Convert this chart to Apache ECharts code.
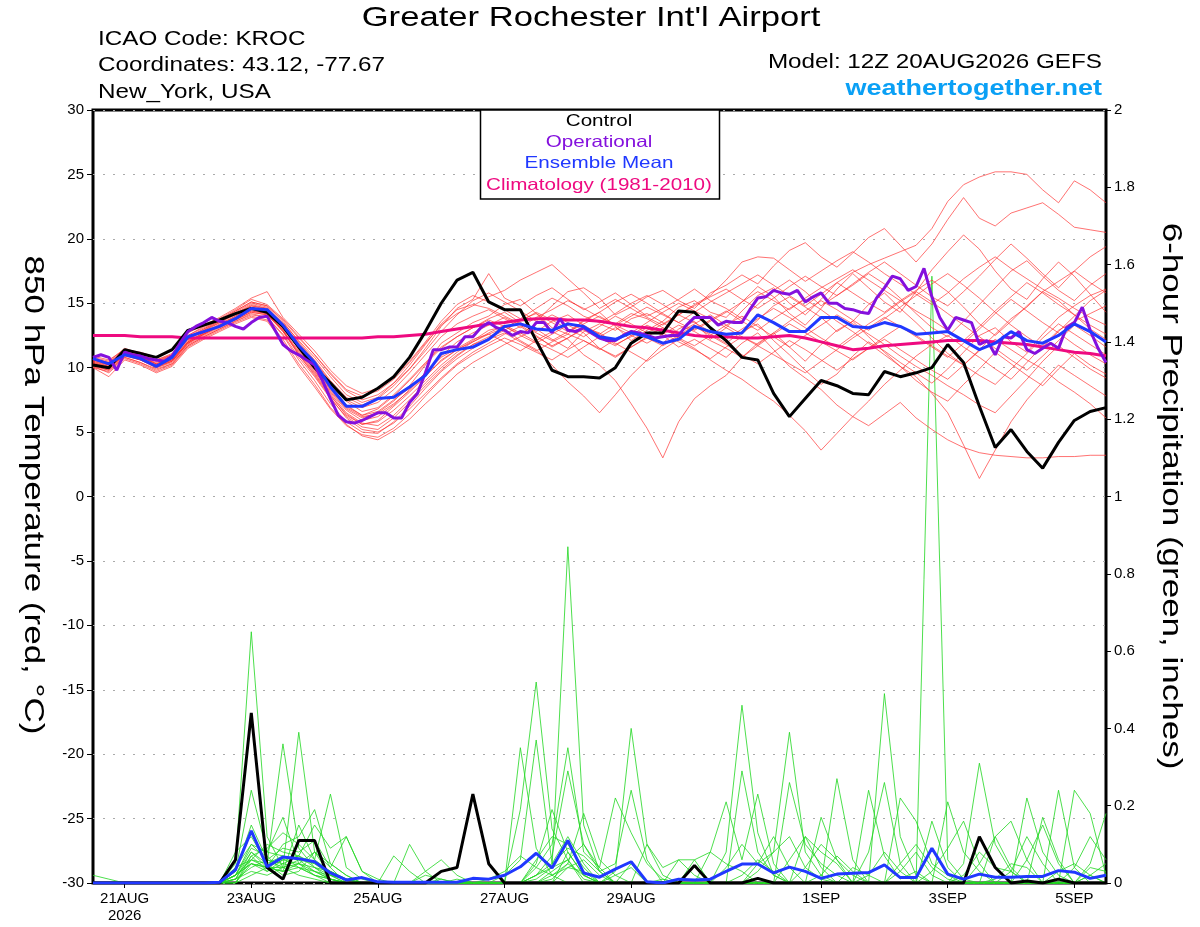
<!DOCTYPE html>
<html>
<head>
<meta charset="utf-8">
<title>KROC GEFS 850 hPa temperature / precipitation</title>
<script src="https://cdn.jsdelivr.net/npm/echarts@6.0.0/dist/echarts.min.js"></script>
<style>
html, body { margin: 0; padding: 0; background: #fff; }
#chart { width: 1200px; height: 927px; }
</style>
</head>
<body>
<div id="chart"></div>
<script>
/* hours are counted from the model run, 12Z 20AUG2026 */
var ENS_STEP = 6;
var OPER_STEP = 3;
var tickHours = [12, 60, 108, 156, 204, 276, 324, 372];
var tickLabels = ['21AUG\n2026', '23AUG', '25AUG', '27AUG', '29AUG', '1SEP', '3SEP', '5SEP'];

/** control run, 850 hPa temperature (C), 6-hourly */
var ctrlTemp = [10.2,10.0,11.4,11.1,10.8,11.4,12.9,13.3,13.7,14.2,14.6,14.3,13.2,11.6,10.0,8.8,7.5,7.7,8.4,9.3,10.8,12.8,15.0,16.8,17.4,15.1,14.5,14.5,12.1,9.8,9.3,9.3,9.2,10.0,11.9,12.7,12.7,14.4,14.3,13.1,12.1,10.8,10.6,8.0,6.2,7.6,9.0,8.6,8.0,7.9,9.7,9.3,9.6,10.0,11.8,10.4,7.0,3.8,5.2,3.5,2.2,4.2,5.9,6.6,6.9];
/** ensemble mean temperature */
var meanTemp = [10.7,10.3,11.0,10.7,10.1,10.8,12.4,12.8,13.2,13.8,14.6,14.5,13.3,11.7,10.4,8.5,7.0,7.0,7.6,7.7,8.5,9.4,11.1,11.4,11.6,12.2,13.2,13.4,13.0,12.9,13.4,13.2,12.4,12.2,12.7,12.4,11.9,12.2,13.2,12.8,12.6,12.7,14.1,13.5,12.8,12.8,13.9,13.9,13.2,13.1,13.5,13.2,12.6,12.7,12.8,12.1,11.4,11.9,12.8,12.1,11.9,12.5,13.4,12.8,12.0];
/** climatology 1981-2010 */
var climTemp = [12.5,12.5,12.5,12.4,12.4,12.4,12.3,12.3,12.3,12.3,12.3,12.3,12.3,12.3,12.3,12.3,12.3,12.3,12.4,12.4,12.5,12.6,12.8,13.0,13.2,13.4,13.5,13.7,13.8,13.8,13.7,13.7,13.6,13.4,13.2,13.1,12.9,12.7,12.5,12.4,12.4,12.3,12.3,12.4,12.5,12.3,12.0,11.7,11.4,11.5,11.7,11.8,11.9,12.0,12.1,12.1,12.1,12.0,11.9,11.8,11.6,11.4,11.2,11.1,10.9];
/** operational run, 3-hourly */
var operTemp = [10.8,11.0,10.8,9.8,11.2,11.0,10.9,10.7,10.6,10.5,
    10.9,11.9,12.8,13.2,13.5,13.9,13.6,13.5,13.2,13.0,
    13.5,13.9,14.0,12.9,11.8,11.3,11.0,10.6,10.2,9.0,
    7.6,6.3,5.8,5.7,5.9,6.2,6.5,6.5,6.1,6.1,
    7.3,8.0,9.6,11.4,11.4,11.6,11.6,12.4,12.4,13.1,
    13.5,13.1,12.9,12.5,12.8,12.7,13.5,13.5,12.7,13.8,
    12.9,12.8,13.1,12.7,12.3,12.1,12.1,12.5,12.8,12.7,
    12.5,12.3,12.4,12.5,12.5,13.3,13.9,13.9,13.9,13.3,
    13.6,13.5,13.5,14.5,15.4,15.5,16.0,15.8,15.7,16.0,
    15.1,15.5,15.8,15.0,15.0,14.6,14.5,14.3,14.2,15.4,
    16.2,17.1,16.9,16.0,16.3,17.7,15.5,13.9,12.9,13.9,
    13.7,13.5,11.8,12.1,11.0,12.4,12.3,12.8,11.4,11.1,
    11.5,11.9,11.5,13.1,13.5,14.7,12.9,11.5,10.4];

/** 6-hour precipitation (inches) */
var ctrlPrecip = [0,0,0,0,0,0,0,0,0,0.06,0.44,0.04,0.01,0.11,0.11,0,0,0,0,0,0,0,0.03,0.04,0.23,0.05,0,0,0,0,0,0,0,0,0,0,0,0,0.045,0,0,0,0.012,0,0,0,0,0,0,0,0,0,0,0,0,0,0.12,0.04,0,0.005,0,0.01,0,0,0];
var meanPrecip = [0,0,0,0,0,0,0,0,0.002,0.034,0.135,0.042,0.067,0.063,0.055,0.026,0.008,0.014,0.003,0.002,0.002,0.002,0.002,0.002,0.012,0.01,0.02,0.042,0.077,0.039,0.11,0.026,0.015,0.036,0.055,0.003,0,0.01,0.008,0.01,0.03,0.049,0.049,0.026,0.041,0.03,0.012,0.023,0.025,0.027,0.047,0.014,0.014,0.09,0.023,0.01,0.023,0.015,0.015,0.017,0.017,0.032,0.028,0.012,0.02];

/** ensemble members, temperature */
var tempMembers = [
    [10.6,10.3,11.3,10.9,10.3,10.8,12.2,12.9,13.6,14.3,15.0,14.7,13.3,11.4,9.9,8.2,6.8,6.1,6.5,7.4,8.6,10.2,11.9,12.7,13.5,14.0,14.9,15.3,14.2,13.1,12.6,13.7,14.3,13.2,12.1,12.9,13.6,14.7,15.2,14.3,13.9,15.1,16.3,15.5,14.2,13.3,14.6,16.1,17.3,16.2,15.1,14.3,15.9,17.6,19.0,20.3,19.2,17.5,16.1,15.3,16.9,18.2,17.1,15.7,14.3],
    [10.3,9.9,11.0,10.6,10.1,10.5,11.9,12.6,13.2,13.7,14.3,14.1,12.9,11.1,9.6,7.9,6.3,5.6,5.9,7.0,8.1,9.3,10.6,11.4,12.1,12.9,13.2,12.5,11.9,12.6,13.3,12.7,11.5,10.9,11.6,12.3,11.9,13.0,13.6,12.2,13.1,14.4,15.6,16.2,15.0,14.1,15.3,16.6,17.4,18.0,18.5,19.0,19.5,20.8,22.9,24.2,24.8,25.2,25.2,25.0,23.8,22.8,24.5,23.8,22.8],
    [10.8,10.5,11.5,11.1,10.6,11.1,12.5,13.2,13.8,14.5,15.3,14.9,13.8,12.4,11.0,9.5,8.2,7.5,7.9,8.8,9.9,11.3,12.8,14.1,15.2,15.8,15.1,14.4,13.6,14.8,15.9,16.2,15.4,14.1,14.7,15.5,16.0,15.2,14.6,15.8,16.4,17.2,16.5,17.9,19.1,19.7,18.6,17.8,18.9,20.1,20.8,19.5,18.2,19.6,21.5,23.2,21.6,21.0,22.0,22.4,22.8,21.9,20.9,20.7,20.5],
    [10.1,9.6,10.7,10.3,9.7,10.2,11.6,12.3,12.9,13.5,14.0,13.7,12.2,10.3,8.7,6.9,5.6,4.7,4.4,5.1,6.0,7.2,8.3,9.5,10.4,11.1,11.8,12.4,13.0,12.2,11.5,12.8,13.4,12.9,13.8,14.2,13.5,12.7,13.4,14.1,13.3,12.6,13.7,14.8,15.5,14.7,13.9,12.8,13.6,14.9,15.8,14.6,13.5,12.3,11.1,10.2,11.4,12.6,13.8,14.7,15.9,15.2,14.1,13.0,12.2],
    [10.4,10.0,11.1,10.7,10.2,10.6,12.0,12.7,13.4,14.0,14.6,14.4,13.0,11.5,10.1,8.6,7.1,6.3,6.6,7.5,8.4,9.6,10.8,11.5,12.2,12.6,12.0,11.3,12.1,12.8,12.2,11.0,10.2,9.0,7.2,5.3,3.0,5.8,7.6,8.6,9.4,10.8,11.9,12.7,11.6,10.5,11.8,12.9,13.6,12.4,11.2,10.1,9.0,8.1,7.4,8.7,9.9,11.2,10.3,9.4,8.6,9.9,11.1,10.2,9.5],
    [10.0,9.7,10.8,10.4,9.9,10.3,11.7,12.4,13.0,13.6,14.1,13.9,12.6,10.8,9.3,7.6,6.2,5.4,5.2,6.1,7.3,8.6,9.8,10.9,11.8,12.4,13.0,12.1,11.4,10.2,8.9,7.8,6.5,7.9,9.4,10.6,11.8,12.5,13.3,12.6,11.9,12.8,13.4,12.1,11.0,9.8,8.7,9.5,10.9,12.0,11.3,10.4,9.6,8.8,9.9,11.2,12.5,13.1,12.0,11.2,12.6,13.9,14.8,15.6,16.1],
    [10.7,10.4,11.4,11.0,10.5,11.0,12.4,13.0,13.7,14.4,15.1,14.8,13.6,12.0,10.6,9.0,7.7,7.1,7.6,8.6,9.9,11.5,13.2,14.6,15.3,17.3,15.4,14.8,15.6,16.2,15.3,14.5,15.1,15.8,14.9,14.0,14.6,15.3,16.1,15.2,14.6,13.8,14.9,16.0,16.8,15.9,14.8,15.6,16.4,17.3,16.5,15.4,14.2,13.1,12.4,13.6,14.9,16.2,17.5,18.3,17.1,16.0,15.2,16.4,17.3],
    [10.2,9.8,10.9,10.6,10.0,10.5,11.9,12.6,13.2,13.8,14.4,14.2,12.9,11.0,9.4,7.7,6.1,5.2,5.0,5.7,6.8,8.0,9.2,10.3,11.2,11.9,12.6,13.2,12.4,11.7,12.3,13.0,12.6,11.8,12.4,13.1,12.5,11.6,12.2,11.5,10.8,11.9,12.7,11.4,10.1,9.2,8.3,7.1,6.2,5.5,6.4,7.3,6.1,5.2,4.4,3.8,3.4,3.2,3.1,3.0,3.0,3.1,3.1,3.2,3.2],
    [10.5,10.2,11.2,10.8,10.3,10.8,12.2,12.8,13.5,14.1,14.8,14.5,13.4,11.9,10.5,8.9,7.4,6.6,6.9,7.9,9.1,10.4,11.6,12.4,13.1,13.8,14.3,13.5,12.8,13.6,14.1,13.3,12.6,13.4,14.2,13.8,13.1,12.4,13.0,13.7,14.4,13.6,12.9,13.8,14.6,15.3,14.5,13.6,12.8,11.9,11.0,10.1,9.3,8.0,6.5,4.0,1.4,3.6,5.8,7.5,8.9,10.2,9.4,8.6,7.8],
    [10.3,10.0,11.0,10.6,10.0,10.4,11.8,12.5,13.1,13.7,14.3,14.1,12.8,11.2,9.7,8.1,6.7,5.9,6.2,7.1,8.3,9.6,10.9,12.0,12.7,13.3,13.9,13.3,12.5,11.6,12.3,13.1,12.7,11.9,11.2,10.5,11.4,12.2,11.5,10.6,9.8,9.1,8.2,7.4,6.3,5.1,3.6,4.9,6.2,7.4,8.7,9.8,10.9,11.8,12.5,11.6,10.8,9.9,9.1,10.4,11.7,12.9,13.6,14.2,14.8],
    [10.9,10.6,11.4,11.2,10.8,11.3,12.7,13.3,13.9,14.6,15.4,15.9,13.9,12.6,11.3,9.8,8.6,8.0,8.4,9.3,10.5,12.0,13.6,14.9,15.6,15.1,14.5,13.8,14.6,15.4,14.8,14.0,13.5,14.2,15.0,15.6,14.9,14.1,14.8,15.5,16.1,15.3,14.6,15.4,16.3,17.1,16.3,15.6,16.5,17.4,18.2,17.3,16.4,15.5,14.8,15.9,17.1,18.4,19.6,18.5,17.3,16.2,17.5,18.6,19.4],
    [10.0,9.3,10.6,10.2,9.6,10.1,11.5,12.2,12.8,13.4,13.9,13.6,12.0,10.1,8.5,6.8,5.5,4.8,4.6,5.3,6.4,7.8,9.1,10.2,11.0,11.7,12.3,11.8,11.2,10.6,11.4,12.1,11.5,10.8,11.6,12.4,13.1,12.3,11.7,12.5,13.3,14.0,13.2,12.4,11.6,12.5,13.3,14.1,13.4,12.6,11.8,10.9,10.1,9.4,8.6,7.9,7.1,6.5,7.8,9.1,10.5,11.7,10.8,9.9,9.2],
    [10.6,10.2,11.1,10.8,10.4,10.9,12.3,13.0,13.6,14.2,14.9,14.6,13.5,12.1,10.8,9.3,7.9,7.3,7.7,8.8,10.2,11.8,13.4,14.5,14.9,14.6,14.0,13.4,12.7,12.1,12.8,13.6,14.3,15.1,15.7,15.0,14.2,13.5,14.3,15.1,15.8,16.5,17.2,16.4,15.6,14.8,15.7,16.6,15.8,15.0,14.3,15.2,16.0,16.8,15.9,14.7,13.4,12.5,13.6,14.8,15.9,16.7,17.5,16.6,15.8],
    [10.4,10.1,11.2,10.8,10.3,10.7,12.1,12.7,13.3,13.9,14.6,14.3,13.1,11.6,10.0,8.3,6.9,6.2,6.4,7.2,8.2,9.4,10.5,11.4,12.0,12.6,13.1,13.7,14.2,13.5,12.8,13.4,14.0,13.3,12.7,13.5,14.3,15.0,14.4,13.8,13.1,12.4,11.8,12.7,13.6,14.4,15.2,14.5,13.7,12.9,13.8,14.7,15.6,16.5,17.3,16.4,15.4,14.3,13.3,12.4,11.6,12.8,14.0,15.2,16.0],
    [10.2,9.9,11.0,10.7,10.2,10.6,12.0,12.6,13.3,13.9,14.5,14.2,12.9,11.3,9.8,8.0,6.5,5.7,5.5,6.3,7.5,8.8,10.0,11.0,11.8,12.2,12.7,12.0,11.3,12.0,12.6,12.1,11.4,12.2,12.9,12.3,11.7,12.4,13.2,12.5,11.8,11.0,10.3,11.2,12.1,11.4,10.6,9.8,10.7,11.5,12.2,11.4,10.6,9.8,9.1,10.2,11.3,12.2,11.4,10.6,9.9,8.9,8.1,7.2,6.1],
    [10.7,10.4,11.3,11.0,10.6,11.0,12.5,13.1,13.7,14.4,15.1,14.8,13.7,12.3,11.0,9.6,8.3,7.8,8.2,9.1,10.4,11.9,13.3,14.2,14.8,15.5,16.0,16.8,17.4,18.0,16.9,15.8,14.6,15.3,14.6,13.9,13.3,14.1,14.9,15.6,16.8,18.2,18.6,18.5,17.6,16.7,17.5,18.3,19.0,18.2,17.3,16.5,15.7,14.9,15.8,16.9,17.8,18.6,17.7,16.9,16.1,15.4,14.6,13.9,13.3],
    [10.5,10.1,11.1,10.7,10.1,10.6,12.0,12.7,13.3,14.0,14.7,14.4,13.1,11.5,10.0,8.4,7.0,6.3,6.8,7.8,9.0,10.3,11.5,12.4,13.1,13.7,13.2,12.6,13.4,14.1,13.5,12.9,12.3,11.7,12.5,13.3,12.7,12.0,11.4,10.7,11.6,12.4,11.7,11.0,10.3,9.6,10.5,11.4,12.3,13.1,13.9,13.2,12.4,11.6,10.8,11.9,13.0,14.2,15.3,14.4,13.5,12.7,11.8,11.0,10.3],
    [10.1,9.8,10.8,10.4,9.8,10.3,11.7,12.4,13.0,13.6,14.2,13.9,12.5,10.6,9.0,7.2,5.8,5.0,4.9,5.8,7.0,8.4,9.7,10.7,11.5,12.3,12.9,13.6,14.3,13.7,13.0,12.4,13.2,14.0,13.4,12.7,13.4,14.1,13.5,12.8,12.2,13.0,13.8,14.6,13.9,13.1,12.3,11.6,12.5,13.4,14.2,15.1,15.9,15.1,14.2,13.3,12.4,11.5,10.6,9.8,10.9,12.1,13.3,12.5,11.6],
    [10.6,10.3,11.2,10.9,10.5,10.9,12.3,12.9,13.5,14.2,14.8,14.6,13.4,11.8,10.4,8.8,7.5,6.9,7.3,8.3,9.6,11.0,12.4,13.4,14.0,14.5,13.8,13.1,13.9,14.5,15.2,14.6,13.9,13.3,14.0,14.7,14.1,13.5,12.9,13.6,14.3,15.1,15.9,15.2,14.5,15.4,16.2,16.9,17.6,16.8,16.0,15.2,14.4,13.7,12.9,12.1,13.2,14.4,15.5,16.6,15.8,14.9,14.1,13.3,12.6],
    [10.3,10.0,11.0,10.6,10.1,10.5,11.9,12.6,13.2,13.8,14.4,14.2,12.8,11.0,9.5,7.8,6.4,5.6,5.8,6.7,7.8,9.0,10.2,11.2,12.0,12.7,13.3,12.7,12.0,11.4,10.8,11.6,12.4,13.1,12.5,11.9,12.6,13.3,12.8,12.1,11.5,10.8,11.7,12.6,13.4,12.7,12.0,11.3,10.6,11.5,12.4,13.2,12.5,11.7,10.9,10.2,9.4,8.7,9.9,11.1,12.3,13.4,12.6,11.8,11.0]
];

/** ensemble members, 6-hour precipitation */
var precipMembers = [
    [0.02,0.01,0,0,0,0,0,0,0,0.05,0.65,0.12,0.04,0.02,0.01,0,0,0,0,0,0,0,0,0,0,0,0,0.35,0.09,0.02,0.05,0.02,0,0,0,0,0,0,0,0,0,0,0.05,0.12,0.04,0,0,0,0,0.02,0.08,0.03,0,0,0,0,0.05,0.12,0.04,0,0,0,0,0.02,0],
    [0,0,0,0,0,0,0,0,0,0.03,0.24,0.08,0.17,0.05,0.03,0.01,0,0,0,0,0,0,0,0.01,0,0,0,0.19,0.52,0.14,0.06,0,0,0,0,0,0.01,0,0,0,0.08,0.46,0.13,0.02,0,0,0,0,0,0,0,0,0,0.03,0.09,0.16,0.05,0,0,0,0,0,0.04,0.12,0.06],
    [0,0,0,0,0,0,0,0,0,0.08,0.12,0.05,0.36,0.09,0.04,0.02,0,0,0,0,0,0,0.01,0,0,0,0,0,0.01,0.04,0.87,0.15,0.03,0,0,0,0,0,0,0,0,0.02,0.06,0.03,0,0.12,0.04,0,0,0.08,0.26,0.05,0,1.57,0.06,0.01,0,0,0,0,0,0,0,0,0],
    [0,0,0,0,0,0,0,0,0,0.02,0.1,0.06,0.04,0.39,0.08,0.02,0.01,0,0,0,0,0,0,0,0,0,0.02,0.06,0.37,0.05,0.12,0.05,0,0.03,0.4,0.1,0.02,0,0,0,0.04,0.1,0.05,0.08,0.39,0.08,0.02,0,0,0,0,0,0,0,0,0.05,0.31,0.1,0.03,0,0,0,0,0,0],
    [0,0,0,0,0,0,0,0,0,0.01,0.08,0.04,0.1,0.12,0.19,0.05,0.02,0,0,0,0,0,0,0,0,0,0,0,0.02,0.07,0.29,0.1,0.03,0.05,0.24,0.06,0,0,0,0,0,0,0,0,0,0,0,0.27,0.06,0,0,0,0,0,0.21,0.08,0.03,0,0,0,0,0,0,0,0],
    [0,0,0,0,0,0,0,0,0,0,0.07,0.09,0.13,0.1,0.06,0.23,0.04,0.01,0,0,0,0,0,0,0,0,0,0,0.04,0.1,0.35,0.08,0.04,0.22,0.13,0.05,0.01,0,0,0,0,0,0,0,0.26,0.1,0.05,0.02,0,0,0,0,0,0,0,0.02,0.08,0.04,0.03,0,0,0,0,0,0],
    [0,0,0,0,0,0,0,0,0,0.04,0.06,0.1,0.08,0.07,0.15,0.09,0.12,0.03,0,0,0,0,0,0,0,0,0,0,0,0.01,0.05,0.18,0.06,0.02,0,0,0,0,0,0.08,0.21,0.06,0.23,0.05,0,0,0.02,0.07,0.03,0,0,0.22,0.16,0.05,0.02,0,0,0,0,0.22,0.08,0.02,0,0,0],
    [0,0,0,0,0,0,0,0,0,0.02,0.05,0.04,0.06,0.05,0.08,0.04,0.12,0.03,0.01,0,0,0,0,0,0,0,0,0,0.05,0.19,0.08,0.02,0,0,0,0,0,0.06,0.06,0,0,0.29,0.08,0.02,0,0,0,0,0,0,0,0,0,0,0,0,0,0,0,0,0,0.24,0.04,0,0],
    [0,0,0,0,0,0,0,0,0,0,0.05,0.03,0.05,0.07,0.05,0.03,0.01,0,0,0,0.1,0.03,0,0,0,0,0,0,0,0.03,0.06,0.1,0.04,0,0.05,0,0,0,0,0,0,0,0,0,0,0,0.17,0.06,0,0,0,0,0,0,0,0,0,0,0.03,0.12,0.05,0,0.24,0.18,0.02],
    [0,0,0,0,0,0,0,0,0,0.01,0.04,0.06,0.09,0.08,0.11,0.04,0,0,0,0,0,0,0,0,0,0,0,0,0,0,0.04,0.03,0,0,0,0,0,0,0,0,0,0,0,0,0,0,0,0,0,0,0.49,0.12,0.02,0,0,0,0,0,0,0,0,0,0,0.05,0.18],
    [0,0,0,0,0,0,0,0,0,0.02,0.06,0.05,0.07,0.06,0.03,0.02,0,0,0,0,0,0,0,0,0,0.01,0.03,0.07,0.04,0.02,0,0,0,0,0,0.1,0.04,0.06,0.02,0,0,0,0,0,0,0,0,0,0,0.24,0.07,0.01,0.03,0,0,0,0,0.12,0.16,0.06,0,0,0,0,0],
    [0,0,0,0,0,0,0,0,0,0.01,0.03,0.02,0.04,0.05,0.04,0.03,0.01,0,0,0,0,0,0,0,0,0,0,0,0,0,0,0,0,0,0,0,0,0,0,0,0,0,0,0,0.06,0.12,0.08,0.05,0,0,0,0,0,0.16,0.04,0,0,0,0,0,0,0,0,0,0],
    [0,0,0,0,0,0,0,0,0,0.02,0.09,0.07,0.03,0.15,0.06,0.03,0.01,0,0,0,0,0,0,0,0,0,0,0,0,0,0.08,0.02,0,0,0,0,0,0,0,0,0,0,0,0,0,0,0,0,0,0,0,0,0,0,0,0,0,0,0,0,0.17,0.06,0,0.04,0.03],
    [0,0,0,0,0,0,0,0,0,0,0.02,0.04,0.03,0.04,0.02,0.01,0,0,0,0,0,0,0,0,0,0,0,0,0.02,0.04,0.06,0.01,0,0,0,0,0,0,0,0,0,0,0,0,0,0,0,0,0,0,0,0.03,0.08,0.02,0,0,0,0,0,0,0,0,0,0,0],
    [0,0,0,0,0,0,0,0,0,0.02,0.08,0.05,0.02,0.03,0.08,0.05,0.02,0,0,0,0,0.02,0.01,0,0,0,0,0,0.02,0.05,0.09,0.07,0.03,0,0,0,0,0,0,0,0,0,0,0,0,0.04,0.1,0.06,0.02,0,0,0,0,0,0,0,0,0.01,0.05,0.04,0,0,0,0.02,0.05],
    [0,0,0,0,0,0,0,0,0,0.01,0.07,0.03,0.06,0.07,0.04,0.01,0,0,0,0.07,0.03,0,0,0,0,0,0,0,0.06,0.12,0.1,0.04,0,0,0,0,0,0,0,0,0,0,0,0,0,0,0,0,0,0,0,0.05,0.1,0.04,0.01,0,0,0,0,0.06,0.15,0.05,0,0,0],
    [0,0,0,0,0,0,0,0,0,0,0.06,0.04,0.03,0.05,0.02,0.01,0,0,0,0,0,0,0,0,0,0,0,0,0,0,0,0,0,0,0,0,0,0,0,0,0,0,0,0,0,0,0,0,0.04,0.02,0,0,0,0,0,0,0,0,0,0,0,0.03,0.05,0.02,0],
    [0,0,0,0,0,0,0,0,0,0.03,0.15,0.06,0.05,0.04,0.02,0,0,0,0,0,0,0.03,0.06,0.02,0,0,0,0,0,0.02,0.04,0.06,0.02,0,0,0,0,0,0.06,0.08,0.05,0.03,0,0,0,0,0,0,0,0,0,0,0,0,0,0,0,0,0,0,0,0,0,0,0],
    [0,0,0,0,0,0,0,0,0,0.02,0.05,0.04,0.04,0.06,0.05,0.02,0.01,0,0,0,0,0,0,0,0,0,0,0,0,0,0,0,0,0.02,0.04,0,0,0,0,0,0,0,0,0,0,0,0,0,0,0,0,0,0,0,0,0,0,0,0,0,0,0,0,0,0],
    [0,0,0,0,0,0,0,0,0,0.04,0.1,0.08,0.07,0.04,0.03,0.01,0,0,0,0,0,0,0,0,0,0,0,0,0,0,0,0,0,0,0,0,0,0,0,0,0,0,0.03,0.08,0.12,0.04,0.01,0,0,0,0,0,0,0,0,0,0,0,0,0,0,0,0,0,0]
];

var FONT = '"Liberation Sans", Arial, Helvetica, sans-serif';
/* the original lettering is drawn about a quarter wider than Arial */
var WIDE = 1.25;
var COLOR_OPER = '#8410dd';
var COLOR_MEAN = '#2038ff';
var COLOR_CLIM = '#ee0a80';

/** pair each value with its forecast hour */
function toHours(values, step) {
    var out = [];
    for (var i = 0, len = values.length; i < len; i++)
        out.push([i * step, values[i]]);
    return out;
}

function thinLine(values, color, axis, z) {
    return {
        type: 'line', yAxisIndex: axis, data: toHours(values, ENS_STEP),
        showSymbol: false, silent: true, z: z,
        lineStyle: { color: color, width: 0.9 }
    };
}

function boldLine(values, step, color, axis, z) {
    return {
        type: 'line', yAxisIndex: axis, data: toHours(values, step),
        showSymbol: false, silent: true, z: z,
        lineStyle: { color: color, width: 3 }
    };
}

var series = [];
for (var g = 0; g < precipMembers.length; g++)
    series.push(thinLine(precipMembers[g], 'rgba(35,215,35,0.9)', 1, 2));
for (var m = 0; m < tempMembers.length; m++)
    series.push(thinLine(tempMembers[m], 'rgba(255,45,45,0.75)', 0, 3));
series.push(boldLine(climTemp, ENS_STEP, COLOR_CLIM, 0, 4));
series.push(boldLine(ctrlTemp, ENS_STEP, '#000', 0, 5));
series.push(boldLine(ctrlPrecip, ENS_STEP, '#000', 1, 5));
series.push(boldLine(operTemp, OPER_STEP, COLOR_OPER, 0, 6));
series.push(boldLine(meanTemp, ENS_STEP, COLOR_MEAN, 0, 7));
series.push(boldLine(meanPrecip, ENS_STEP, COLOR_MEAN, 1, 7));

/** text element, stretched along its baseline */
function txt(text, x, y, size, color, align, weight, rotation) {
    return {
        type: 'text', z: 100, x: x, y: y, scaleX: WIDE, rotation: rotation || 0,
        style: {
            text: text, fill: color, font: (weight || 'normal') + ' ' + size + 'px ' + FONT,
            align: align, textAlign: align, verticalAlign: 'middle', textVerticalAlign: 'middle'
        }
    };
}

var chart = echarts.init(document.getElementById('chart'));
chart.setOption({
    animation: false,
    backgroundColor: '#fff',
    textStyle: { fontFamily: FONT },
    grid: {
        left: 93, right: 94, top: 110, bottom: 44,
        show: true, borderColor: '#000', borderWidth: 3, backgroundColor: 'transparent'
    },
    xAxis: {
        type: 'value', min: 0, max: 384,
        axisLine: { show: false, onZero: false },
        splitLine: { show: false },
        axisTick: { customValues: tickHours, length: 5, lineStyle: { color: '#000', width: 1 } },
        axisLabel: {
            customValues: tickHours, color: '#000', fontSize: 15, margin: 7, lineHeight: 17,
            formatter: function (v) { return tickLabels[tickHours.indexOf(v)]; }
        }
    },
    yAxis: [{
        type: 'value', min: -30, max: 30, interval: 5,
        axisLine: { show: false },
        axisTick: { show: true, length: 6, lineStyle: { color: '#000', width: 1 } },
        axisLabel: { color: '#000', fontSize: 15, margin: 9 },
        splitLine: { show: true, lineStyle: { color: '#aaa', type: [2, 8], width: 1 } }
    }, {
        type: 'value', min: 0, max: 2, interval: 0.2, position: 'right',
        axisLine: { show: false },
        axisTick: { show: true, length: 5, lineStyle: { color: '#000', width: 1 } },
        axisLabel: { color: '#000', fontSize: 15, margin: 8 },
        splitLine: { show: false }
    }],
    series: series,
    graphic: [
        txt("Greater Rochester Int'l Airport", 591, 18, 27.7, '#000', 'center'),
        txt('ICAO Code: KROC', 98, 40, 19.4, '#000', 'left'),
        txt('Coordinates: 43.12, -77.67', 98, 66, 19.4, '#000', 'left'),
        txt('New_York, USA', 98, 93, 19.4, '#000', 'left'),
        txt('Model: 12Z 20AUG2026 GEFS', 1102, 63, 19.4, '#000', 'right'),
        txt('weathertogether.net', 1102, 89, 21.6, '#0aa0f5', 'right', 'bold'),
        txt('850 hPa Temperature (red, \u00b0C)', 33, 495, 28, '#000', 'center', 'normal', -Math.PI / 2),
        txt('6-hour Precipitation (green, inches)', 1171, 496, 28, '#000', 'center', 'normal', -Math.PI / 2),
        {
            type: 'rect', z: 99,
            shape: { x: 480.5, y: 110, width: 239, height: 89 },
            style: { fill: '#fff', stroke: '#000', lineWidth: 1.5 }
        },
        txt('Control', 599, 121, 16.5, '#000', 'center'),
        txt('Operational', 599, 142, 16.5, COLOR_OPER, 'center'),
        txt('Ensemble Mean', 599, 163, 16.5, COLOR_MEAN, 'center'),
        txt('Climatology (1981-2010)', 599, 185, 16.5, COLOR_CLIM, 'center')
    ]
});
</script>
</body>
</html>
